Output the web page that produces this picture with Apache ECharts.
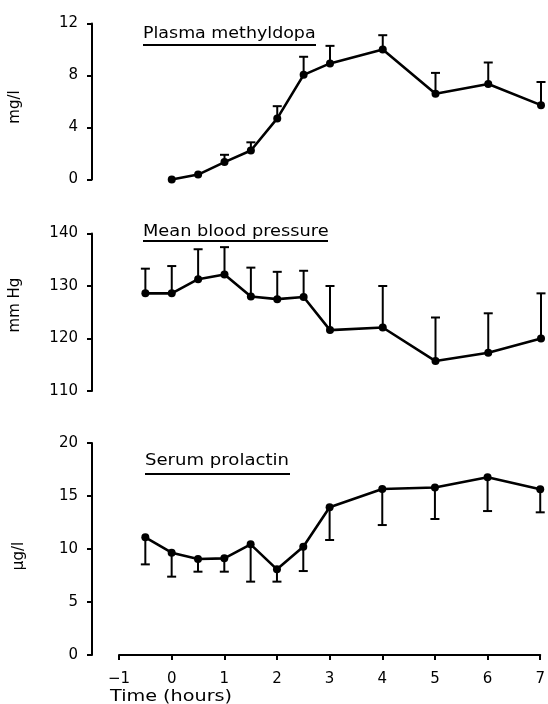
<!DOCTYPE html>
<html>
<head>
<meta charset="utf-8">
<script src="https://cdn.jsdelivr.net/npm/echarts@6/dist/echarts.min.js"></script>
<style>html,body{margin:0;padding:0;background:#fff;}#c{width:548px;height:704px;}</style>
</head>
<body>
<div id="c"></div>
<script>
// ---- data ----
var times = [-0.5, 0, 0.5, 1, 1.5, 2, 2.5, 3, 4, 5, 6, 7];
var methyldopa      = [null, 0, 0.38, 1.34, 2.23, 4.7, 8.05, 8.93, 10.0, 6.6, 7.34, 5.72];
var methyldopaUpper = [null, null, null, 1.9, 2.86, 5.64, 9.44, 10.28, 11.1, 8.2, 9.0, 7.5];
var pressure      = [128.6, 128.6, 131.3, 132.2, 128.0, 127.5, 127.9, 121.6, 122.1, 115.7, 117.3, 120.0];
var pressureUpper = [133.3, 133.8, 137.0, 137.4, 133.5, 132.7, 132.9, 130.0, 130.0, 124.0, 124.8, 128.6];
var prolactin      = [11.1, 9.65, 9.06, 9.12, 10.44, 8.08, 10.22, 13.93, 15.66, 15.8, 16.76, 15.63];
var prolactinLower = [8.55, 7.39, 7.86, 7.86, 6.92, 6.92, 7.92, 10.85, 12.26, 12.83, 13.58, 13.46];
var xTicks = [-1, 0, 1, 2, 3, 4, 5, 6, 7];
var panelTitles = ['Plasma methyldopa', 'Mean blood pressure', 'Serum prolactin'];
var yUnits = ['mg/l', 'mm Hg', 'µg/l'];
var xTitle = 'Time (hours)';

var FONT = 'DejaVu Sans';
function pairs(vals) {
  var out = [];
  for (var i = 0; i < times.length; i++) if (vals[i] != null) out.push([times[i], vals[i]]);
  return out;
}
function errPairs(vals, ends) {
  var out = [];
  for (var i = 0; i < times.length; i++) if (vals[i] != null && ends[i] != null) out.push([times[i], vals[i], ends[i]]);
  return out;
}
function errRender(params, api) {
  var p = api.coord([api.value(0), api.value(1)]);
  var e = api.coord([api.value(0), api.value(2)]);
  var hw = 4.5;
  return {
    type: 'group',
    children: [
      {type: 'line', shape: {x1: p[0], y1: p[1], x2: e[0], y2: e[1]}, style: {stroke: '#000', lineWidth: 2}},
      {type: 'line', shape: {x1: e[0] - hw, y1: e[1], x2: e[0] + hw, y2: e[1]}, style: {stroke: '#000', lineWidth: 2}}
    ]
  };
}

var LEFT = 119, RIGHT = 7;
var grids = [
  {left: LEFT, right: RIGHT, top: 23.5, height: 156},
  {left: LEFT, right: RIGHT, top: 233.5, height: 157.5},
  {left: LEFT, right: RIGHT, top: 443, height: 212}
];
var xAxes = grids.map(function (g, i) {
  var show = i === 2;
  return {
    type: 'value', gridIndex: i, min: xTicks[0], max: xTicks[xTicks.length - 1], interval: 1,
    show: show,
    splitLine: {show: false},
    axisLine: {show: show, onZero: false, lineStyle: {color: '#000', width: 2}},
    axisTick: {show: show, length: 5, lineStyle: {color: '#000', width: 2}},
    axisLabel: {show: show, color: '#000', fontFamily: FONT, fontSize: 15, margin: 17,
      formatter: function (v) { return v < 0 ? '\u2212' + Math.abs(v) : String(v); }}
  };
});

var yRanges = [[0, 12, 4], [110, 140, 10], [0, 20, 5]];
var yAxes = yRanges.map(function (r, i) {
  return {
    type: 'value', gridIndex: i, min: r[0], max: r[1], interval: r[2],
    position: 'left',
    offset: 27,
    splitLine: {show: false},
    axisLine: {show: true, onZero: false, lineStyle: {color: '#000', width: 2}},
    axisTick: {show: true, length: 5, lineStyle: {color: '#000', width: 2}},
    axisLabel: {color: '#000', fontFamily: FONT, fontSize: 15, margin: 14}
  };
});

var lineCommon = {
  type: 'line', symbol: 'circle', symbolSize: 8, color: '#000',
  lineStyle: {color: '#000', width: 2.6}, itemStyle: {color: '#000'},
  z: 3, animation: false
};
var series = [
  Object.assign({}, lineCommon, {xAxisIndex: 0, yAxisIndex: 0, data: pairs(methyldopa)}),
  Object.assign({}, lineCommon, {xAxisIndex: 1, yAxisIndex: 1, data: pairs(pressure)}),
  Object.assign({}, lineCommon, {xAxisIndex: 2, yAxisIndex: 2, data: pairs(prolactin)}),
  {type: 'custom', xAxisIndex: 0, yAxisIndex: 0, renderItem: errRender, data: errPairs(methyldopa, methyldopaUpper), z: 2, animation: false},
  {type: 'custom', xAxisIndex: 1, yAxisIndex: 1, renderItem: errRender, data: errPairs(pressure, pressureUpper), z: 2, animation: false},
  {type: 'custom', xAxisIndex: 2, yAxisIndex: 2, renderItem: errRender, data: errPairs(prolactin, prolactinLower), z: 2, animation: false}
];

// panel titles with underlines
var titlePos = [
  {x: 143, y: 33.5, ux2: 316, uy: 45, sx: 1.09},
  {x: 143, y: 231.5, ux2: 328, uy: 241, sx: 1.11},
  {x: 145, y: 461, ux2: 290, uy: 474, sx: 1.13}
];
var graphics = [];
panelTitles.forEach(function (t, i) {
  var p = titlePos[i];
  graphics.push({type: 'text', x: p.x, y: p.y, scaleX: p.sx,
    style: {text: t, fill: '#000', font: '16px "' + FONT + '"', align: 'left', verticalAlign: 'middle'}});
  graphics.push({type: 'line', shape: {x1: p.x, y1: p.uy, x2: p.ux2, y2: p.uy}, style: {stroke: '#000', lineWidth: 2}});
});
var unitPos = [[15, 107], [15, 305], [19, 556]];
yUnits.forEach(function (u, i) {
  graphics.push({type: 'text', x: unitPos[i][0], y: unitPos[i][1], rotation: Math.PI / 2,
    style: {text: u, fill: '#000', font: '15px "' + FONT + '"', align: 'center', verticalAlign: 'middle'}});
});
graphics.push({type: 'text', x: 110, y: 697, scaleX: 1.2,
  style: {text: xTitle, fill: '#000', font: '16px "' + FONT + '"', align: 'left', verticalAlign: 'middle'}});

var chart = echarts.init(document.getElementById('c'), null, {renderer: 'canvas'});
chart.setOption({
  animation: false,
  backgroundColor: '#fff',
  grid: grids,
  xAxis: xAxes,
  yAxis: yAxes,
  series: series,
  graphic: graphics
});
</script>
</body>
</html>
